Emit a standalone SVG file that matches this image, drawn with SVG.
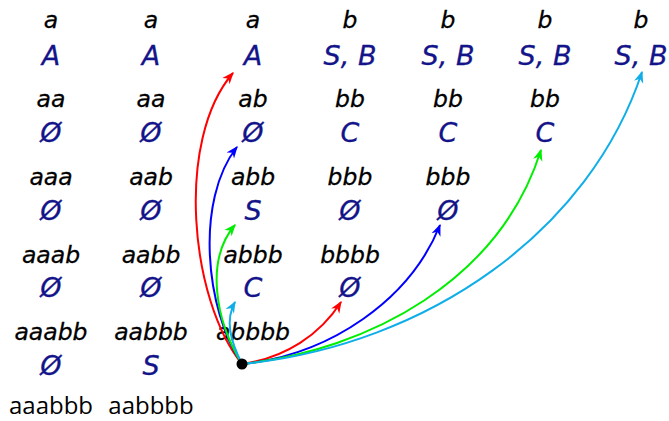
<svg xmlns="http://www.w3.org/2000/svg" width="669" height="421" viewBox="0 0 669 421">
<style>
text{font-family:"Open Sans","DejaVu Sans",sans-serif;font-size:24px;text-anchor:middle}
.w{font-family:"DejaVu Sans",sans-serif;font-style:italic;fill:#000;font-size:23.5px;stroke:#000;stroke-width:0.3}
.s{font-family:"DejaVu Sans",sans-serif;font-style:italic;fill:#14148a;font-size:27px;stroke:#14148a;stroke-width:0.3}
.u{fill:#000}
.c{fill:none;stroke-width:2}
</style>
<defs>
<marker id="mr" viewBox="0 0 10 10" refX="9" refY="5" markerWidth="12" markerHeight="12" orient="auto" markerUnits="userSpaceOnUse"><path d="M0,1 L10,5 L0,9 L3,5 Z" fill="#ff0000"/></marker>
<marker id="mb" viewBox="0 0 10 10" refX="9" refY="5" markerWidth="12" markerHeight="12" orient="auto" markerUnits="userSpaceOnUse"><path d="M0,1 L10,5 L0,9 L3,5 Z" fill="#0000ff"/></marker>
<marker id="mg" viewBox="0 0 10 10" refX="9" refY="5" markerWidth="12" markerHeight="12" orient="auto" markerUnits="userSpaceOnUse"><path d="M0,1 L10,5 L0,9 L3,5 Z" fill="#00ee00"/></marker>
<marker id="mc" viewBox="0 0 10 10" refX="9" refY="5" markerWidth="12" markerHeight="12" orient="auto" markerUnits="userSpaceOnUse"><path d="M0,1 L10,5 L0,9 L3,5 Z" fill="#10aee8"/></marker>
</defs>
<g id="col1">
<g id="c1r1"><text class="w" x="51" y="28">a</text><text class="s" x="51" y="65">A</text></g>
<g id="c1r2"><text class="w" x="51" y="107">aa</text><text class="s" x="51" y="142">Ø</text></g>
<g id="c1r3"><text class="w" x="51" y="185">aaa</text><text class="s" x="51" y="220">Ø</text></g>
<g id="c1r4"><text class="w" x="51" y="263">aaab</text><text class="s" x="51" y="297">Ø</text></g>
<g id="c1r5"><text class="w" x="51" y="340">aaabb</text><text class="s" x="51" y="375">Ø</text></g>
<g id="c1r6"><text class="u" x="51" y="414">aaabbb</text></g>
</g>
<g id="col2">
<g id="c2r1"><text class="w" x="151" y="28">a</text><text class="s" x="151" y="65">A</text></g>
<g id="c2r2"><text class="w" x="151" y="107">aa</text><text class="s" x="151" y="142">Ø</text></g>
<g id="c2r3"><text class="w" x="151" y="185">aab</text><text class="s" x="151" y="220">Ø</text></g>
<g id="c2r4"><text class="w" x="151" y="263">aabb</text><text class="s" x="151" y="297">Ø</text></g>
<g id="c2r5"><text class="w" x="151" y="340">aabbb</text><text class="s" x="151" y="375">S</text></g>
<g id="c2r6"><text class="u" x="151" y="414">aabbbb</text></g>
</g>
<g id="col3">
<g id="c3r1"><text class="w" x="253" y="28">a</text><text class="s" x="253" y="65">A</text></g>
<g id="c3r2"><text class="w" x="253" y="107">ab</text><text class="s" x="253" y="142">Ø</text></g>
<g id="c3r3"><text class="w" x="253" y="185">abb</text><text class="s" x="253" y="220">S</text></g>
<g id="c3r4"><text class="w" x="253" y="263">abbb</text><text class="s" x="253" y="297">C</text></g>
<g id="c3r5"><text class="w" x="253" y="340">abbbb</text></g>
</g>
<g id="col4">
<g id="c4r1"><text class="w" x="350" y="28">b</text><text class="s" x="350" y="65">S, B</text></g>
<g id="c4r2"><text class="w" x="350" y="107">bb</text><text class="s" x="350" y="142">C</text></g>
<g id="c4r3"><text class="w" x="350" y="185">bbb</text><text class="s" x="350" y="220">Ø</text></g>
<g id="c4r4"><text class="w" x="350" y="263">bbbb</text><text class="s" x="350" y="297">Ø</text></g>
</g>
<g id="col5">
<g id="c5r1"><text class="w" x="448" y="28">b</text><text class="s" x="448" y="65">S, B</text></g>
<g id="c5r2"><text class="w" x="448" y="107">bb</text><text class="s" x="448" y="142">C</text></g>
<g id="c5r3"><text class="w" x="448" y="185">bbb</text><text class="s" x="448" y="220">Ø</text></g>
</g>
<g id="col6">
<g id="c6r1"><text class="w" x="545" y="28">b</text><text class="s" x="545" y="65">S, B</text></g>
<g id="c6r2"><text class="w" x="545" y="107">bb</text><text class="s" x="545" y="142">C</text></g>
</g>
<g id="col7">
<g id="c7r1"><text class="w" x="641" y="28">b</text><text class="s" x="641" y="65">S, B</text></g>
</g>
<g id="connectors">
<path class="c" stroke="#ff0000" marker-end="url(#mr)" d="M242,364 C190,300 175,140 233,73"/>
<path class="c" stroke="#0000ff" marker-end="url(#mb)" d="M242,364 C205,310 195,200 237,147"/>
<path class="c" stroke="#00ee00" marker-end="url(#mg)" d="M242,364 C215,320 205,260 235,225"/>
<path class="c" stroke="#10aee8" marker-end="url(#mc)" d="M242,364 C230,340 225,320 235,302"/>
<path class="c" stroke="#ff0000" marker-end="url(#mr)" d="M242,364 C285,358 320,335 341,302"/>
<path class="c" stroke="#0000ff" marker-end="url(#mb)" d="M242,364 C330,355 410,300 440,225"/>
<path class="c" stroke="#00ee00" marker-end="url(#mg)" d="M242,364 C370,350 500,280 541,150"/>
<path class="c" stroke="#10aee8" marker-end="url(#mc)" d="M242,364 C430,345 590,230 642,72"/>
</g>
<g id="origin"><circle cx="242" cy="364" r="5.5" fill="#000"/></g>
</svg>
